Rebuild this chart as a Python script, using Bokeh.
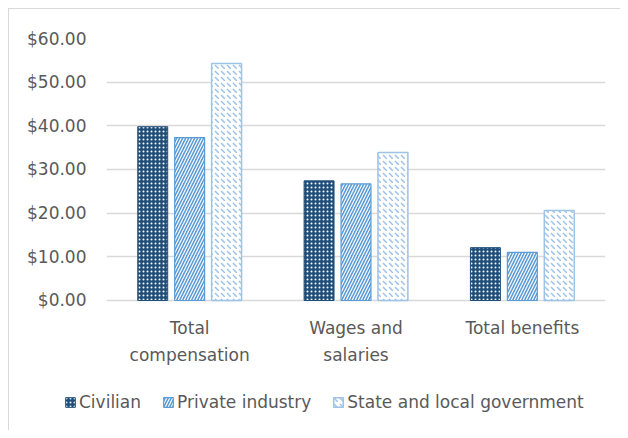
from bokeh.plotting import figure
from bokeh.layouts import column
from bokeh.models import FactorRange, NumeralTickFormatter, Legend, LegendItem, ColumnDataSource, FixedTicker
from bokeh.transform import dodge
from bokeh.core.properties import value
from bokeh.embed import file_html
from bokeh.resources import INLINE

categories = ["Total\ncompensation", "Wages and\nsalaries", "Total benefits"]
series = ["Civilian", "Private industry", "State and local government"]
civilian = [39.8, 27.4, 12.1]
private_industry = [37.3, 26.7, 11.0]
state_local = [54.3, 33.9, 20.6]
y_ticks = [0, 10, 20, 30, 40, 50, 60]

FONT = "DejaVu Sans"
FSIZE = "17px"
TEXT_COLOR = "#595959"
GRID_COLOR = "#d9d9d9"
BORDER = "1px solid #d9d9d9"

styles = [
    dict(fill_color="#1F4E79", line_color="#1F4E79", line_width=1,
         hatch_pattern="dot", hatch_color="white", hatch_scale=4, hatch_weight=1.5),
    dict(fill_color="#5B9BD5", line_color="#5B9BD5", line_width=1.2,
         hatch_pattern="right_diagonal_line", hatch_color="white", hatch_scale=6, hatch_weight=1.2),
    dict(fill_color="white", line_color="#9DC3E6", line_width=1.5,
         hatch_pattern="left_diagonal_dash", hatch_color="#9DC3E6", hatch_scale=6, hatch_weight=1.5),
]

src = ColumnDataSource(dict(cat=categories, civ=civilian, priv=private_industry, st=state_local))

p = figure(x_range=FactorRange(factors=categories, range_padding=0), y_range=(-18.55, 60),
           width=612, height=372, output_backend="svg", toolbar_location=None,
           x_axis_location=None,
           min_border_left=97, min_border_right=16, min_border_top=29, min_border_bottom=0)
p.outline_line_color = None
p.frame_align = False
p.styles = {"border-left": BORDER, "border-top": BORDER}

bw = 0.18
for col, off, st in (("civ", -0.222, styles[0]), ("priv", 0.0, styles[1]), ("st", 0.222, styles[2])):
    p.vbar(x=dodge("cat", off, range=p.x_range), top=col, width=bw, source=src, **st)

# category labels (two lines where the name has a line break)
first = [c.split("\n")[0] for c in categories]
second = [c.split("\n")[1] if "\n" in c else "" for c in categories]
lab = ColumnDataSource(dict(cat=categories, l1=first, l2=second))
for col, yv in (("l1", -6.2), ("l2", -12.5)):
    p.text(x="cat", y=yv, text=col, source=lab, text_align="center", text_baseline="alphabetic",
           text_font=value(FONT), text_font_size=FSIZE, text_color=TEXT_COLOR)

yax = p.yaxis[0]
yax.ticker = FixedTicker(ticks=y_ticks)
yax.formatter = NumeralTickFormatter(format="$0.00")
yax.axis_line_color = None
yax.major_tick_line_color = None
yax.minor_tick_line_color = None
yax.major_label_text_font = FONT
yax.major_label_text_font_size = FSIZE
yax.major_label_text_color = TEXT_COLOR
yax.major_label_standoff = 14
p.xgrid.grid_line_color = None
p.ygrid.ticker = FixedTicker(ticks=y_ticks)
p.ygrid.grid_line_color = GRID_COLOR
p.ygrid.grid_line_width = 1.5

# legend strip below the chart
leg = figure(x_range=(0, 612), y_range=(0, 50), width=612, height=50,
             output_backend="svg", toolbar_location=None,
             x_axis_location=None, y_axis_location=None,
             min_border_left=0, min_border_right=0, min_border_top=0, min_border_bottom=0)
leg.outline_line_color = None
leg.frame_align = False
leg.xgrid.visible = False
leg.ygrid.visible = False
leg.styles = {"border-left": BORDER}
items = []
for name, st in zip(series, styles):
    # legend proxy: a bar with no height, so only its legend swatch shows
    r = leg.vbar(x=[0], top=[float("nan")], width=1, **st)
    items.append(LegendItem(label=name, renderers=[r]))
legend = Legend(items=items, orientation="horizontal", location=(55, 18),
                glyph_width=12, glyph_height=12, label_standoff=3, spacing=21,
                label_text_font=FONT, label_text_font_size=FSIZE, label_text_color=TEXT_COLOR,
                label_width=10, label_text_baseline="middle",
                border_line_color=None, background_fill_alpha=0, margin=0, padding=0)
leg.add_layout(legend, "center")

layout = column(p, leg, spacing=0, margin=(8, 0, 0, 8))
open("out.html", "w").write(file_html(layout, INLINE))
